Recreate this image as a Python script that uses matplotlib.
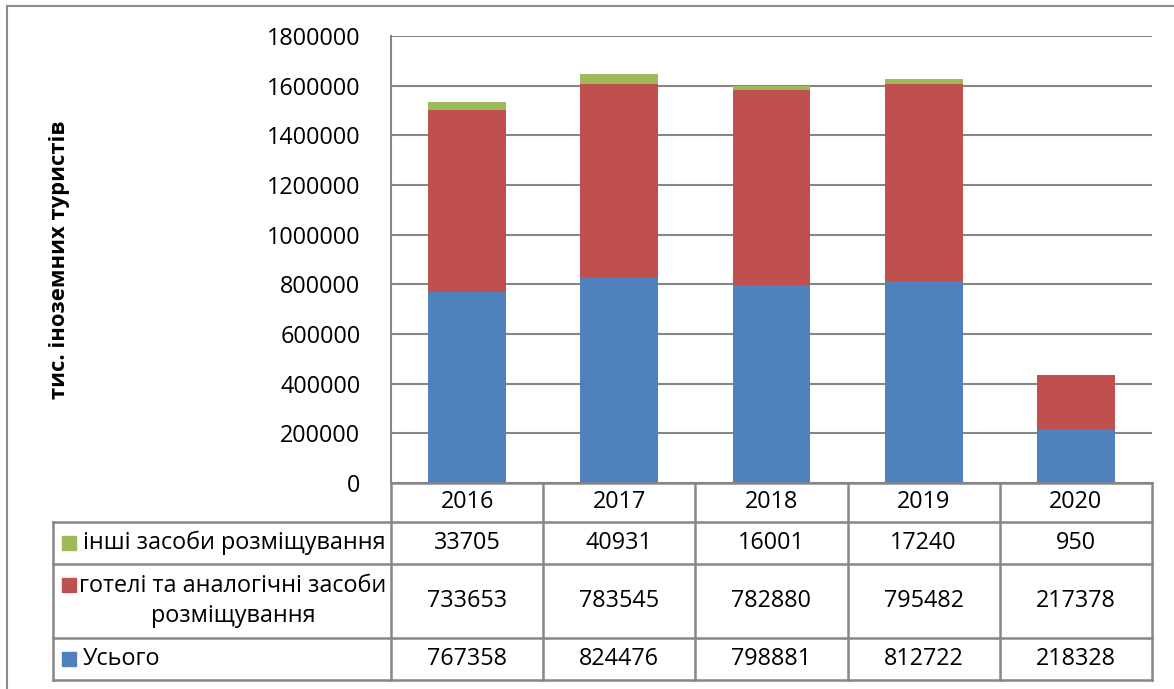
import matplotlib
matplotlib.use("Agg")
import matplotlib.pyplot as plt
from matplotlib.lines import Line2D
from matplotlib.patches import Rectangle

plt.rcParams['font.family'] = ['Open Sans', 'DejaVu Sans']

years = ['2016', '2017', '2018', '2019', '2020']
total = [767358, 824476, 798881, 812722, 218328]
hotels = [733653, 783545, 782880, 795482, 217378]
other = [33705, 40931, 16001, 17240, 950]
yticks = [0, 200000, 400000, 600000, 800000, 1000000, 1200000, 1400000, 1600000, 1800000]
ylabel = 'тис. іноземних туристів'
row_labels = ['інші засоби розміщування', 'готелі та аналогічні засоби\nрозміщування', 'Усього']

c_blue, c_red, c_green = '#4F81BD', '#C0504D', '#9BBB59'
grid_c = '#868686'
FS = 16.8

W, H = 1174, 689
fig = plt.figure(figsize=(W / 100, H / 100), dpi=100)

def fx(px):
    return px / W

def fy(py):
    return 1 - py / H

L, R, T, B = 391, 1152, 36, 483
ax = fig.add_axes([fx(L), fy(B), fx(R) - fx(L), fy(T) - fy(B)])
x = list(range(len(years)))
bw = 0.51
ax.bar(x, total, bw, color=c_blue, zorder=3)
ax.bar(x, hotels, bw, bottom=total, color=c_red, zorder=3)
bott2 = [a + b for a, b in zip(total, hotels)]
ax.bar(x, other, bw, bottom=bott2, color=c_green, zorder=3)
ax.set_xlim(-0.5, len(years) - 0.5)
ax.set_ylim(0, 1800000)
ax.set_yticks(yticks)
ax.set_yticklabels([str(v) for v in yticks], fontsize=FS)
ax.set_xticks([])
ax.tick_params(axis='y', length=0, pad=22)
ax.grid(axis='y', color=grid_c, linewidth=1.5, zorder=0)
for s in ['top', 'right', 'bottom']:
    ax.spines[s].set_visible(False)
ax.spines['left'].set_color(grid_c)
ax.spines['left'].set_linewidth(1.5)

fig.text(fx(60), fy(260), ylabel, rotation=90, ha='center', va='center',
         fontsize=FS - 1, fontweight='bold')

# outer chart border (top and left visible)
fig.add_artist(Line2D([fx(7), fx(7)], [fy(6), 0], color='#8c8c8c', lw=1.5, transform=fig.transFigure))
fig.add_artist(Line2D([fx(7), 1], [fy(6), fy(6)], color='#8c8c8c', lw=1.5, transform=fig.transFigure))

# data table
colw = (R - L) / len(years)
col_edges = [L + i * colw for i in range(len(years) + 1)]
rows_y = [483, 522, 564, 638, 680]
TL = 53

def hline(x0, x1, y):
    fig.add_artist(Line2D([fx(x0), fx(x1)], [fy(y), fy(y)], color=grid_c, lw=1.8, transform=fig.transFigure))

def vline(xx, y0, y1):
    fig.add_artist(Line2D([fx(xx), fx(xx)], [fy(y0), fy(y1)], color=grid_c, lw=1.8, transform=fig.transFigure))

hline(L, R, rows_y[0])
for yy in rows_y[1:]:
    hline(TL, R, yy)
for xx in col_edges:
    vline(xx, rows_y[0], rows_y[-1])
vline(TL, rows_y[1], rows_y[-1])

for i, yr in enumerate(years):
    cx = (col_edges[i] + col_edges[i + 1]) / 2
    fig.text(fx(cx), fy((rows_y[0] + rows_y[1]) / 2), yr, ha='center', va='center', fontsize=FS)

series = [other, hotels, total]
colors = [c_green, c_red, c_blue]
for r in range(3):
    y0, y1 = rows_y[r + 1], rows_y[r + 2]
    cy = (y0 + y1) / 2
    for i in range(len(years)):
        cx = (col_edges[i] + col_edges[i + 1]) / 2
        fig.text(fx(cx), fy(cy), str(series[r][i]), ha='center', va='center', fontsize=FS)
    # legend key
    my = cy if r != 1 else y0 + 21
    fig.add_artist(Rectangle((fx(62), fy(my + 7)), fx(14), 14 / H, color=colors[r],
                             transform=fig.transFigure))
    if r == 1:
        fig.text(fx(233), fy(cy), row_labels[r], ha='center', va='center', fontsize=FS,
                 multialignment='center', linespacing=1.35)
    else:
        fig.text(fx(83), fy(cy), row_labels[r], ha='left', va='center', fontsize=FS)

fig.savefig('out.png', dpi=100)
